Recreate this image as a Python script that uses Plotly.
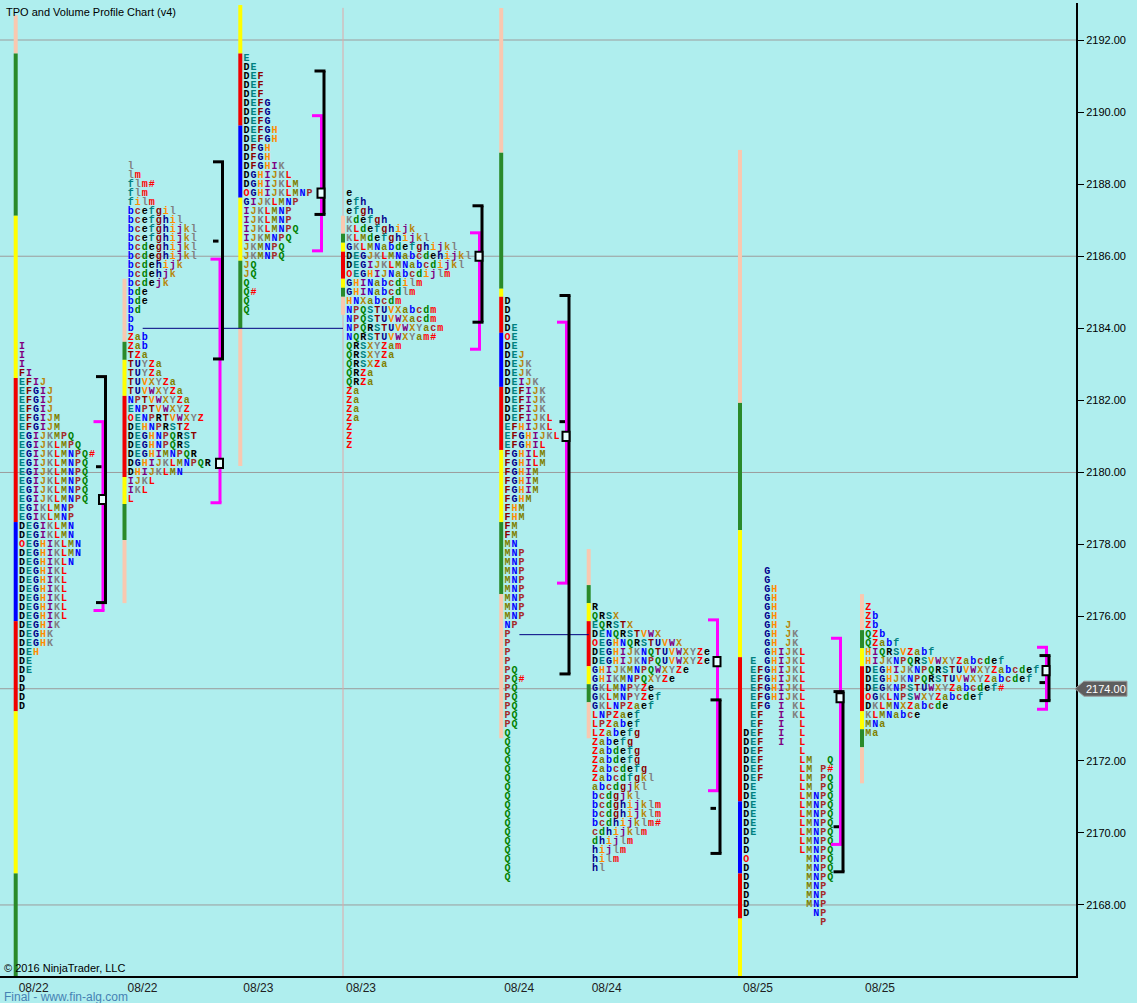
import plotly.graph_objects as go

# ---------------- data ----------------
ROW_STEP = 0.25
PRICE_TICKS = list(range(2168, 2193, 2))
GRID_PRICES = [2168, 2174, 2180, 2186, 2192]
LAST_PRICE = 2174.00
DATE_LABELS = ["08/22", "08/22", "08/23", "08/23", "08/24", "08/24", "08/25", "08/25"]
LETTER_ORDER = "DEFGHIJKLMNPQRSTUVWXYZabcdefghijklm"

P1_TOP = 2183.5
P1_ROWS = ["I", "I", "I", "FI", "EFIJ", "EFGIJ", "EFGIJ", "EFGIJ", "EFGIJM", "EFGIJM",
           "EGIJKMPQ", "EGIJKLMPQ", "EGIJKLMNPQ#", "EGIJKLMNPQ", "EGIJKLMNPQ", "EGIJKLMNPQ",
           "EGIJKLMNPQ", "EGIJKLMNPQ", "EGIKLMNP", "EGIKLMNP", "DEGIKLMN", "DEGIKLMN",
           "OEGHIKLMN", "DEGHIKLMN", "DEGHIKLN", "DEGHIKL", "DEGHIKL", "DEGHIKL", "DEGHIKL",
           "DEGHIKL", "DEGHIKL", "DEGHIK", "DEGHK", "DEGHK", "DEH", "DE", "DE", "D", "D", "D", "D"]

P2_TOP = 2188.5
P2_ROWS = ["l", "lm", "flm#", "flm", "film", "bcefgil", "bcefghil", "bcefghijkl", "bcefghijkl",
           "bcdeghijkl", "bcdeghijkl", "bcdehijk", "bcdehjk", "bcdejk", "bde", "bde", "bd", "b", "b",
           "Zab", "Zab", "TZa", "TUYZa", "TUYZa", "TUVXYZa", "TUVWXYZa", "NPTVWXYZa", "ENPTVWXYZ",
           "OENPRTVWXYZ", "DEHNPRSTZ", "DEGHNPQRST", "DEGHNPQRS", "DEGHIMNPQR", "DGHIJKLMNPQR",
           "DHIJKLMN", "IJKL", "IKL", "L"]

P3_TOP = 2191.5
P3_ROWS = ["E", "DE", "DEF", "DEF", "DEF", "DEFG", "DEFG", "DEFG", "DEFGH", "DEFGH", "DFGH", "DFGH",
           "DFGHIK", "DGHIJKL", "DGHIJKLM", "OGHIJKLMNP", "GIJKLMNP", "IJKLMNP", "IJKLMNP",
           "IJKLMNPQ", "IJKMNPQ", "JKMNPQ", "JKMNPQ", "JQ", "JQ", "Q", "Q#", "Q", "Q"]

P4_TOP = 2187.75
P4_ROWS = ["e", "efh", "efgh", "Kdefgh", "KLdefghijk", "KLMdefghijkl", "GKLMNabdefghijkl",
           "DEGJKLMNabcdehijkl", "DEGIJKLMNabcdijkl", "OEGHIJNabcdijlm", "GHINabcdilm", "GHINabcdlm",
           "HNXabcdm", "NPQSTUVXabcdm", "NPQSTUVWXacdm", "NPQRSTUVWXYacm", "NQRSTUVWXYam#",
           "QRSXYZam", "QRSXYZa", "QRSXZa", "QRZa", "QRZa", "Za", "Za", "Za", "Za", "Z", "Z", "Z"]

P5_TOP = 2184.75
P5_ROWS = (["D", "D", "D", "DE", "OE", "DE", "DEJ", "DEJK", "DEJK", "DEIJK", "DEFIJK", "DEFIJK",
            "DEFIJK", "DEFIJKL", "EFHIJKL", "EFGHIJKL", "EFGHIL", "FGHILM", "FGHILM", "FGHIM",
            "FGHIM", "FGHIM", "FGHM", "FHM", "FHM", "FM", "FM", "MN"]
           + ["MNP"] * 8 + ["NP"] + ["P"] * 4
           + ["PQ", "PQ#", "PQ", "PQ", "PQ", "PQ", "PQ"] + ["Q"] * 17)

P6_TOP = 2176.25
P6_ROWS = ["R", "QRSX", "EQRSTX", "DENQRSTVWX", "OEGHNQRSTUVWX", "DEGHIJKNQTUVWXYZe",
           "DEGHIJKNPQUVWXYZe", "GHIJKMNPQWXYZe", "GHIKMNPQXYZe", "GKLMNPYZe", "GKLMNPYZef",
           "GKLNPZaef", "LNPZaef", "LPZabef", "LZabefg", "Zabefg", "Zabdefg", "Zabdefg", "Zabcdefg",
           "Zabcdfgkl", "abcdgjkl", "bcdgjkl", "bcdghijklm", "bcdghijklm", "bcdhijklm#", "cdhijklm",
           "dhijlm", "hijlm", "hilm", "hl"]

# split profile: each period keeps its own column (D E F G H I J K L M N P Q)
P7_TOP = 2177.25
P7_ROWS = ["   G", "   G", "   GH", "   GH", "   GH", "   GH", "   GH J", "   GH JK", "   GH JK",
           "   GHIJKL", " E GHIJKL", " EFGHIJKL", " EFGHIJKL", " EFGHIJKL", " EFGHIJKL",
           " EFG I KL", " EF  I KL", " EF  I  L", "DEF  I  L", "DEF  I  L", "DEF     L",
           "DEF     LM  Q", "DEF     LM P#", "DEF     LM PQ", "DE      LM PQ", "DE      LMNPQ",
           "DE      LMNPQ", "DE      LMNPQ", "DE      LMNPQ", "DE      LMNPQ", "D       LMNPQ",
           "D       LMNPQ", "O        MNPQ", "D        MNPQ", "D        MNPQ", "D        MNP",
           "D        MNP", "D        MNP", "D         NP", "           P"]

P8_TOP = 2176.25
P8_ROWS = ["Z", "Zb", "Zb", "QZb", "QZabf", "HIQRSVZabf", "HIJKNPQRSVWXYZabcdef",
           "DEGHIJKNPQRSTUVWXYZabcdef", "DEGHJKNPQRSTUVWXYZabcdef", "DEGKNPSTUWXYZabcdef#",
           "OGKLNPSWXYZabcdef", "DKLMNXZabcde", "KLMNabce", "MNa", "Ma"]

PROFILE_TOPS = [P1_TOP, P2_TOP, P3_TOP, P4_TOP, P5_TOP, P6_TOP, P7_TOP, P8_TOP]
PROFILE_ROWS = [P1_ROWS, P2_ROWS, P3_ROWS, P4_ROWS, P5_ROWS, P6_ROWS, P7_ROWS, P8_ROWS]

# range bars: segment edges (price, top -> bottom) and segment kinds
P1_BAR_EDGES = [2192.69, 2191.625, 2187.125, 2182.625, 2178.625, 2175.875, 2173.375, 2168.875, 2166.0]
P1_BAR_KINDS = ["peach", "green", "yellow", "red", "blue", "red", "yellow", "green"]
P2_BAR_EDGES = [2185.375, 2183.625, 2183.125, 2182.125, 2179.875, 2179.125, 2178.125, 2176.375]
P2_BAR_KINDS = ["peach", "green", "yellow", "red", "yellow", "green", "peach"]
P3_BAR_EDGES = [2192.97, 2191.625, 2189.625, 2187.625, 2185.875, 2184.0, 2180.18]
P3_BAR_KINDS = ["yellow", "red", "blue", "yellow", "green", "peach"]
P4_BAR_EDGES = [2187.125, 2186.625, 2186.375, 2186.125, 2185.375, 2185.125, 2184.875, 2184.375]
P4_BAR_KINDS = ["peach", "green", "yellow", "red", "yellow", "green", "peach"]
P5_BAR_EDGES = [2192.89, 2188.875, 2185.1, 2184.875, 2183.875, 2182.375, 2180.625, 2178.625, 2176.625, 2172.625]
P5_BAR_KINDS = ["peach", "green", "yellow", "red", "blue", "red", "yellow", "green", "peach"]
P6_BAR_EDGES = [2177.875, 2176.875, 2176.375, 2175.875, 2174.625, 2174.125, 2173.625, 2172.625]
P6_BAR_KINDS = ["peach", "green", "yellow", "red", "yellow", "green", "peach"]
P7_BAR_EDGES = [2188.95, 2181.93, 2178.4, 2174.875, 2170.875, 2168.875, 2167.625, 2166.0]
P7_BAR_KINDS = ["peach", "green", "yellow", "red", "blue", "red", "yellow"]
P8_BAR_EDGES = [2176.625, 2175.625, 2175.125, 2174.625, 2173.375, 2172.875, 2172.375, 2171.375]
P8_BAR_KINDS = ["peach", "green", "yellow", "red", "yellow", "green", "peach"]

BAR_EDGES = [P1_BAR_EDGES, P2_BAR_EDGES, P3_BAR_EDGES, P4_BAR_EDGES,
             P5_BAR_EDGES, P6_BAR_EDGES, P7_BAR_EDGES, P8_BAR_EDGES]
BAR_KINDS = [P1_BAR_KINDS, P2_BAR_KINDS, P3_BAR_KINDS, P4_BAR_KINDS,
             P5_BAR_KINDS, P6_BAR_KINDS, P7_BAR_KINDS, P8_BAR_KINDS]

# value areas and points of control
TPO_VAH = [2181.41, 2185.92, 2189.90, 2186.65, 2184.17, 2175.91, 2175.40, 2175.15]
TPO_VAL = [2176.17, 2179.16, 2186.15, 2183.42, 2176.93, 2171.17, 2169.68, 2173.43]
VOL_VAH = [2182.66, 2188.62, 2191.14, 2187.40, 2184.91, 2173.69, 2173.92, 2174.92]
VOL_VAL = [2176.39, 2183.15, 2187.16, 2184.17, 2174.41, 2169.43, 2168.92, 2173.67]
VOL_MID = [2180.16, 2186.42, None, None, 2181.41, 2170.68, 2170.17, 2174.17]
POC = [2179.25, 2180.25, 2187.75, 2186.0, 2181.0, 2174.75, 2173.75, 2174.5]

# naked POC extensions: from profile -> to profile at price
NAKED_FROM = [1, 4]
NAKED_TO = [3, 5]
NAKED_PRICE = [2184.0, 2175.5]

# ---------------- style / layout ----------------
LETTER_COLORS = ["#000000", "#008080", "#8B0000", "#00008B", "#FF8C00", "#800080", "#B8860B",
                 "#808080", "#FF0000", "#808000", "#0000FF", "#A52A2A", "#008000"]
MARK_COLOR = "#FF0000"
KIND_COLORS = {"peach": "#F9C8B0", "green": "#2A8A2A", "yellow": "#FFFF00",
               "red": "#F00000", "blue": "#0000FF"}
BG = "#AFEEEE"

X_MAX = 1076
BAR_X = [15.7, 124.5, 240.3, 343, 501.2, 588.7, 740, 862]
BRACKET_X = [103, 220, 321.5, 479.5, 566.5, 717.5, 840.5, 1046.5]
COL_W = 7.0
LETTER_OFFSET = 6.3
BAR_HALF = 2.0
PX_PER_PT = 36.04


def letter_color(ch):
    if ch in "O#":
        return MARK_COLOR
    return LETTER_COLORS[LETTER_ORDER.index(ch) % len(LETTER_COLORS)]


groups = {}
for p, (top, rows) in enumerate(zip(PROFILE_TOPS, PROFILE_ROWS)):
    x0 = BAR_X[p] + LETTER_OFFSET
    for r, row in enumerate(rows):
        y = top - r * ROW_STEP
        for i, ch in enumerate(row):
            if ch == " ":
                continue
            g = groups.setdefault(letter_color(ch), {"x": [], "y": [], "t": []})
            g["x"].append(x0 + i * COL_W)
            g["y"].append(y)
            g["t"].append(ch)

fig = go.Figure()
for color, g in groups.items():
    fig.add_trace(go.Scatter(
        x=g["x"], y=g["y"], text=g["t"], mode="text", textposition="middle center",
        textfont=dict(family="Liberation Mono", size=10, color=color, weight="bold"),
        hoverinfo="skip", showlegend=False))

shapes = []
# grid lines
for gp in GRID_PRICES:
    shapes.append(dict(type="line", xref="paper", x0=0, x1=1, yref="y", y0=gp, y1=gp,
                       line=dict(color="#9C9C9C", width=1), layer="below"))
# session separator
shapes.append(dict(type="line", xref="x", x0=BAR_X[3], x1=BAR_X[3], yref="paper", y0=0, y1=0.995,
                   line=dict(color="#E0A8A8", width=1), layer="below"))

# range bars
for p in range(len(BAR_X)):
    edges = BAR_EDGES[p]
    for k, kind in enumerate(BAR_KINDS[p]):
        shapes.append(dict(type="rect", xref="x", yref="y",
                           x0=BAR_X[p] - BAR_HALF, x1=BAR_X[p] + BAR_HALF,
                           y0=edges[k + 1], y1=edges[k],
                           fillcolor=KIND_COLORS[kind], line=dict(width=0)))

# naked POC lines
for f, t, pr in zip(NAKED_FROM, NAKED_TO, NAKED_PRICE):
    rows = PROFILE_ROWS[f]
    r = int(round((PROFILE_TOPS[f] - pr) / ROW_STEP))
    xs = BAR_X[f] + LETTER_OFFSET + (len(rows[r]) + 0.7) * COL_W
    shapes.append(dict(type="line", xref="x", yref="y", x0=xs, x1=BAR_X[t], y0=pr, y1=pr,
                       line=dict(color="#000080", width=1)))

# brackets
TICK = 9.5
for p in range(len(BAR_X)):
    mx = BRACKET_X[p]
    bx = mx + 2.5
    mag = dict(color="#FF00FF", width=3)
    blk = dict(color="#000000", width=3)
    shapes.append(dict(type="line", xref="x", yref="y", x0=mx, x1=mx, y0=TPO_VAL[p], y1=TPO_VAH[p], line=mag))
    for v in (TPO_VAH[p], TPO_VAL[p]):
        shapes.append(dict(type="line", xref="x", yref="y", x0=mx - TICK, x1=mx + 1.5, y0=v, y1=v, line=mag))
    shapes.append(dict(type="line", xref="x", yref="y", x0=bx, x1=bx, y0=VOL_VAL[p], y1=VOL_VAH[p], line=blk))
    for v in (VOL_VAH[p], VOL_VAL[p]):
        shapes.append(dict(type="line", xref="x", yref="y", x0=bx - TICK, x1=bx + 1.5, y0=v, y1=v, line=blk))
    if VOL_MID[p] is not None:
        shapes.append(dict(type="line", xref="x", yref="y", x0=bx - TICK, x1=bx - 4, y0=VOL_MID[p],
                           y1=VOL_MID[p], line=blk))
    h = 4.6 / PX_PER_PT
    shapes.append(dict(type="rect", xref="x", yref="y", x0=bx - 6.5, x1=bx + 0.5,
                       y0=POC[p] - h, y1=POC[p] + h, fillcolor="#E8FFFF",
                       line=dict(color="#000000", width=2)))

# last price badge (pixel-sized, anchored at the right edge of the plot)
shapes.append(dict(type="path", xref="paper", yref="y", xsizemode="pixel", ysizemode="pixel",
                   xanchor=1, yanchor=LAST_PRICE,
                   path="M -1 0 L 8 7.5 L 51 7.5 L 51 -7.5 L 8 -7.5 Z",
                   fillcolor="#5E5E5E", line=dict(color="#9A9A9A", width=1)))

annotations = [
    dict(text=f"{LAST_PRICE:.2f}", xref="paper", yref="y", x=1, y=LAST_PRICE, xanchor="center",
         xshift=30, showarrow=False,
         font=dict(family="Liberation Sans", size=11, color="#FFFFFF")),
    dict(text="TPO and Volume Profile Chart (v4)", xref="paper", yref="paper", x=0, y=1,
         xanchor="left", yanchor="top", xshift=4, yshift=-1, showarrow=False,
         font=dict(family="Liberation Sans", size=11, color="#000000")),
    dict(text="© 2016 NinjaTrader, LLC", xref="paper", yref="paper", x=0, y=0,
         xanchor="left", yanchor="bottom", xshift=2, yshift=0, showarrow=False,
         font=dict(family="Liberation Sans", size=11, color="#000000")),
    dict(text="Final - www.fin-alg.com", xref="paper", yref="paper", x=0, y=0,
         xanchor="left", yanchor="top", xshift=2, yshift=-12, showarrow=False,
         font=dict(family="Liberation Sans", size=12, color="#4682B4")),
]

top_price = PRICE_TICKS[-1] + 37 / PX_PER_PT
bottom_price = top_price - 973 / PX_PER_PT
tick_text = ["" if v == LAST_PRICE else f"{v:.2f}" for v in PRICE_TICKS]

fig.update_layout(
    width=1137, height=1003,
    margin=dict(l=0, r=61, t=3, b=27, pad=0),
    paper_bgcolor=BG, plot_bgcolor=BG,
    showlegend=False, hovermode=False,
    shapes=shapes, annotations=annotations,
    xaxis=dict(range=[0, X_MAX], showgrid=False, zeroline=False,
               tickvals=[b + 18 for b in BAR_X], ticktext=DATE_LABELS, ticks="",
               showline=True, linecolor="#000000", linewidth=2,
               tickfont=dict(family="Liberation Sans", size=12, color="#202020")),
    yaxis=dict(range=[bottom_price, top_price], side="right", showgrid=False, zeroline=False,
               tickvals=PRICE_TICKS, ticktext=tick_text,
               ticks="outside", ticklen=6, tickcolor="#000000", tickwidth=1,
               showline=True, linecolor="#000000", linewidth=2,
               tickfont=dict(family="Liberation Sans", size=11, color="#000000")),
)

fig.write_html("out.html", config={"displayModeBar": False},
               post_script="document.body.style.margin='0';document.body.style.overflow='hidden';"
                           "document.body.style.background='" + BG + "';")
